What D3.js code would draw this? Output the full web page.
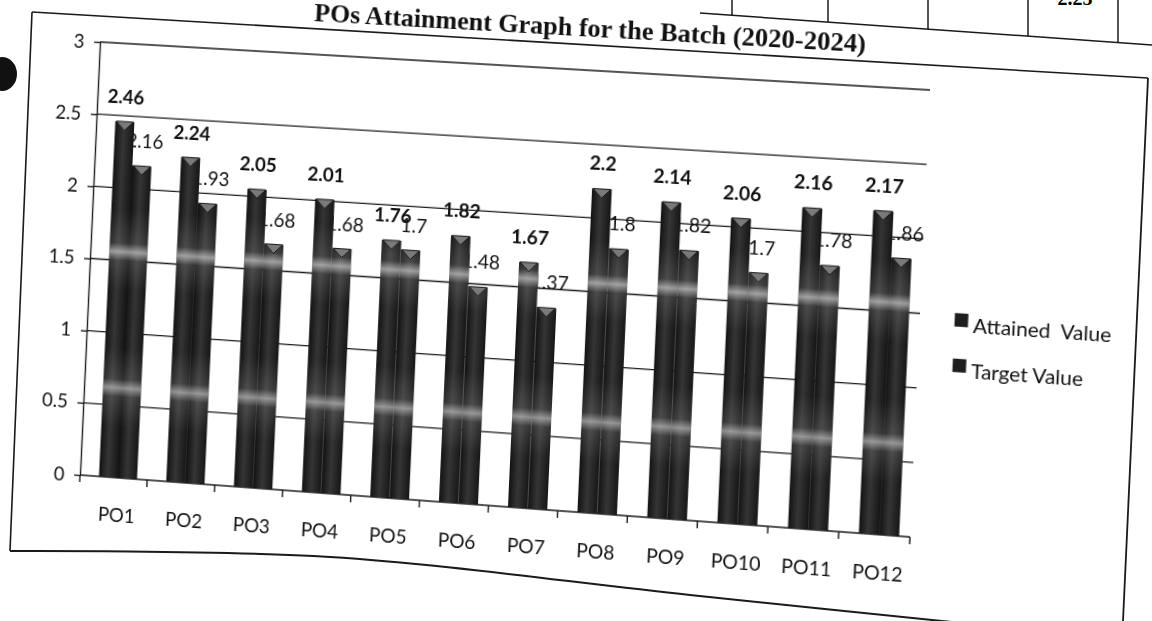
<!DOCTYPE html>
<html>
<head>
<meta charset="utf-8">
<script src="https://cdn.jsdelivr.net/npm/d3@7"></script>
<style>
html, body { margin: 0; padding: 0; background: #fff; width: 1152px; height: 621px; overflow: hidden; }
#page { position: absolute; left: 0; top: 0; }
#chart { position: absolute; left: 0; top: 0; overflow: visible; transform-origin: 0 0; }
</style>
</head>
<body>
<svg id="page" width="1152" height="621"></svg>
<svg id="chart" width="1152" height="621"></svg>
<script>
//----------------------------------------------------------
// chart data
var categories = ["PO1", "PO2", "PO3", "PO4", "PO5", "PO6", "PO7", "PO8", "PO9", "PO10", "PO11", "PO12"];
var attainedValues = [2.46, 2.24, 2.05, 2.01, 1.76, 1.82, 1.67, 2.2, 2.14, 2.06, 2.16, 2.17];
var targetValues = [2.16, 1.93, 1.68, 1.68, 1.7, 1.48, 1.37, 1.8, 1.82, 1.7, 1.78, 1.86];
var seriesNames = ["Attained  Value", "Target Value"];
var yTicks = [0, 0.5, 1, 1.5, 2, 2.5, 3];
var titleText = "POs Attainment Graph for the Batch (2020-2024)";


//----------------------------------------------------------
// the reference is a photographed page, so the flat chart is
// warped onto the page with a perspective (homography) transform
function SolveHomography(src, dst) {
    var A = [], b = [];
    for (var i = 0; i < 4; i++) {
        var x = src[i][0], y = src[i][1], X = dst[i][0], Y = dst[i][1];
        A.push([x, y, 1, 0, 0, 0, -x * X, -y * X]); b.push(X);
        A.push([0, 0, 0, x, y, 1, -x * Y, -y * Y]); b.push(Y);
    }
    for (var c = 0; c < 8; c++) {
        var p = c;
        for (var r = c + 1; r < 8; r++)
            if (Math.abs(A[r][c]) > Math.abs(A[p][c])) p = r;
        var t = A[c]; A[c] = A[p]; A[p] = t;
        var tb = b[c]; b[c] = b[p]; b[p] = tb;
        for (r = c + 1; r < 8; r++) {
            var f = A[r][c] / A[c][c];
            for (var k = c; k < 8; k++) A[r][k] -= f * A[c][k];
            b[r] -= f * b[c];
        }
    }
    var h = new Array(8);
    for (var r2 = 7; r2 >= 0; r2--) {
        var s = b[r2];
        for (var k2 = r2 + 1; k2 < 8; k2++) s -= A[r2][k2] * h[k2];
        h[r2] = s / A[r2][r2];
    }
    return h;
}

function ApplyHomography(h, p) {
    var w = h[6] * p[0] + h[7] * p[1] + 1;
    return [(h[0] * p[0] + h[1] * p[1] + h[2]) / w, (h[3] * p[0] + h[4] * p[1] + h[5]) / w];
}

var plotLeft = 80, plotRight = 907, plotBottom = 475, plotTop = 42;
var flatCorners = [[plotLeft, plotBottom], [plotLeft, plotTop], [plotRight, plotTop], [plotRight, plotBottom]];
var pageCorners = [[80, 475], [100, 42], [930, 90], [910, 537]];

var g_h = SolveHomography(flatCorners, pageCorners);
var g_hinv = SolveHomography(pageCorners, flatCorners);

function ToFlat(p) {
    return ApplyHomography(g_hinv, p);
}


//----------------------------------------------------------
// page furniture (drawn straight in page coordinates)
var g_page = d3.select("#page");
var g_line = d3.line();

function PageLine(points, width) {
    g_page.append("path")
        .attr("d", g_line(points))
        .attr("fill", "none")
        .attr("stroke", "#1a1a1a")
        .attr("stroke-width", width);
}

PageLine([[32, 12], [10, 551]], 1.6);
PageLine([[32, 12], [1148, 78]], 1.6);
PageLine([[1148, 78], [1123, 621]], 1.8);
g_page.append("path")
    .attr("d", d3.line().curve(d3.curveCatmullRom)([[10, 551], [330, 557], [690, 595], [1010, 628]]))
    .attr("fill", "none")
    .attr("stroke", "#1a1a1a")
    .attr("stroke-width", 2);

// table left over from the page above
PageLine([[700, 13], [1152, 45]], 1.5);
[732, 828, 928, 1028, 1118].forEach(function (x) {
    PageLine([[x, 0], [x, 13 + (x - 700) * 0.0708]], 1.5);
});
g_page.append("text")
    .attr("x", 1075).attr("y", 5)
    .attr("text-anchor", "middle")
    .attr("font-family", "Liberation Serif")
    .attr("font-weight", "bold")
    .attr("font-size", 20)
    .text("2.25");

// punch hole
g_page.append("ellipse")
    .attr("cx", 2).attr("cy", 74)
    .attr("rx", 15).attr("ry", 17)
    .attr("fill", "#111");


//----------------------------------------------------------
// the chart, in flat coordinates
var g_svg = d3.select("#chart")
    .style("transform", "matrix3d(" + [g_h[0], g_h[3], 0, g_h[6], g_h[1], g_h[4], 0, g_h[7], 0, 0, 1, 0, g_h[2], g_h[5], 0, 1].join(",") + ")");

var x0 = d3.scaleBand().domain(categories).range([plotLeft, plotRight]);
var x1 = d3.scaleBand().domain(seriesNames).range([19.5, 58.5]);
var y = d3.scaleLinear().domain([0, 3]).range([plotBottom, plotTop]);

var rows = categories.map(function (c, i) {
    return { cat: c, values: [attainedValues[i], targetValues[i]] };
});

var labelFont = "Lato, 'DejaVu Sans', sans-serif";

// gradients for the dark 3d bars
var defs = g_svg.append("defs");
var body = defs.append("linearGradient").attr("id", "barBody")
    .attr("x1", 0).attr("x2", 1).attr("y1", 0).attr("y2", 0);
body.append("stop").attr("offset", 0).attr("stop-color", "#121212");
body.append("stop").attr("offset", 0.45).attr("stop-color", "#353535");
body.append("stop").attr("offset", 1).attr("stop-color", "#161616");

var bands = defs.append("linearGradient").attr("id", "barBands")
    .attr("gradientUnits", "userSpaceOnUse")
    .attr("x1", 0).attr("x2", 0)
    .attr("y1", y(3)).attr("y2", y(0));
[[3, 0], [1.85, 0], [1.62, 0.12], [1.56, 0.55], [1.5, 0.12], [1.3, 0],
 [0.9, 0], [0.68, 0.12], [0.62, 0.5], [0.56, 0.12], [0.35, 0], [0, 0]].forEach(function (s) {
    bands.append("stop")
        .attr("offset", (y(s[0]) - y(3)) / (y(0) - y(3)))
        .attr("stop-color", "#fff")
        .attr("stop-opacity", s[1]);
});

// gridlines and axes
g_svg.append("g")
  .selectAll("line")
  .data(yTicks)
  .join("line")
    .attr("x1", plotLeft).attr("x2", plotRight)
    .attr("y1", function (d) { return y(d); })
    .attr("y2", function (d) { return y(d); })
    .attr("stroke", "#1c1c1c")
    .attr("stroke-width", 1.4);

var yAxis = g_svg.append("g")
    .attr("transform", "translate(" + plotLeft + ",0)")
    .call(d3.axisLeft(y).tickValues(yTicks).tickSize(6).tickSizeOuter(0).tickPadding(10)
        .tickFormat(function (d) { return String(d); }));
yAxis.select(".domain").attr("stroke", "#1c1c1c").attr("stroke-width", 1.4);
yAxis.selectAll(".tick line").attr("stroke", "#1c1c1c").attr("stroke-width", 1.4);
yAxis.selectAll("text")
    .attr("font-family", labelFont)
    .attr("font-size", 19)
    .attr("fill", "#111");

g_svg.append("g")
  .selectAll("line")
  .data(d3.range(categories.length + 1))
  .join("line")
    .attr("x1", function (i) { return plotLeft + i * x0.bandwidth(); })
    .attr("x2", function (i) { return plotLeft + i * x0.bandwidth(); })
    .attr("y1", y(0)).attr("y2", y(0) + 7)
    .attr("stroke", "#1c1c1c")
    .attr("stroke-width", 1.4);

g_svg.append("g")
  .selectAll("text")
  .data(rows)
  .join("text")
    .attr("x", function (d) { return x0(d.cat) + 39; })
    .attr("y", y(0) + 44)
    .attr("text-anchor", "middle")
    .attr("font-family", labelFont)
    .attr("font-size", 19)
    .attr("fill", "#111")
    .text(function (d) { return d.cat; });


//----------------------------------------------------------
function DrawSeries(si) {
    var name = seriesNames[si];
    var g = g_svg.append("g");

    var bar = g.selectAll("g")
      .data(rows)
      .join("g")
        .attr("transform", function (d) {
            return "translate(" + (x0(d.cat) + x1(name)) + ",0)";
        });

    bar.append("rect")
        .attr("y", function (d) { return y(d.values[si]); })
        .attr("width", x1.bandwidth())
        .attr("height", function (d) { return y(0) - y(d.values[si]); })
        .attr("fill", "url(#barBody)");

    bar.append("rect")
        .attr("y", function (d) { return y(d.values[si]); })
        .attr("width", x1.bandwidth())
        .attr("height", function (d) { return y(0) - y(d.values[si]); })
        .attr("fill", "url(#barBands)");

    // lighter bevel at the top of each bar
    bar.append("path")
        .attr("d", function (d) {
            var t = y(d.values[si]), w = x1.bandwidth();
            return "M1," + t + "L" + (w - 1) + "," + t + "L" + (w / 2) + "," + (t + 9) + "Z";
        })
        .attr("fill", "#7a7a7a")
        .attr("stroke", "#1a1a1a")
        .attr("stroke-width", 1);
}

function DrawLabels(si, dx, bold) {
    var name = seriesNames[si];
    g_svg.append("g")
      .selectAll("text")
      .data(rows)
      .join("text")
        .attr("x", function (d) { return x0(d.cat) + x1(name) + x1.bandwidth() / 2 + dx; })
        .attr("y", function (d) { return y(d.values[si]) - 18; })
        .attr("text-anchor", "middle")
        .attr("font-family", labelFont)
        .attr("font-size", 19)
        .attr("font-weight", bold ? "bold" : "normal")
        .attr("fill", "#111")
        .text(function (d) { return String(d.values[si]); });
}

// target sits behind the attained bars, which hide part of its labels
DrawSeries(1);
DrawLabels(1, 2, false);
DrawSeries(0);
DrawLabels(0, 0, true);


//----------------------------------------------------------
// title and legend
var titleAt = ToFlat([587, 36]);
g_svg.append("text")
    .attr("x", titleAt[0]).attr("y", titleAt[1])
    .attr("text-anchor", "middle")
    .attr("font-family", "'Liberation Serif', serif")
    .attr("font-weight", "bold")
    .attr("font-size", 26)
    .attr("fill", "#111")
    .text(titleText);

var legendAt = ToFlat([955, 313]);
var legend = g_svg.append("g")
    .attr("transform", "translate(" + legendAt[0] + "," + legendAt[1] + ")")
  .selectAll("g")
  .data(seriesNames)
  .join("g")
    .attr("transform", function (d, i) { return "translate(0," + i * 44 + ")"; });

legend.append("rect")
    .attr("width", 13).attr("height", 13)
    .attr("fill", "#1e1e1e");

legend.append("text")
    .attr("x", 18).attr("y", 18)
    .attr("font-family", labelFont)
    .attr("font-size", 20)
    .attr("fill", "#111")
    .style("white-space", "pre")
    .text(function (d) { return d; });
</script>
</body>
</html>
